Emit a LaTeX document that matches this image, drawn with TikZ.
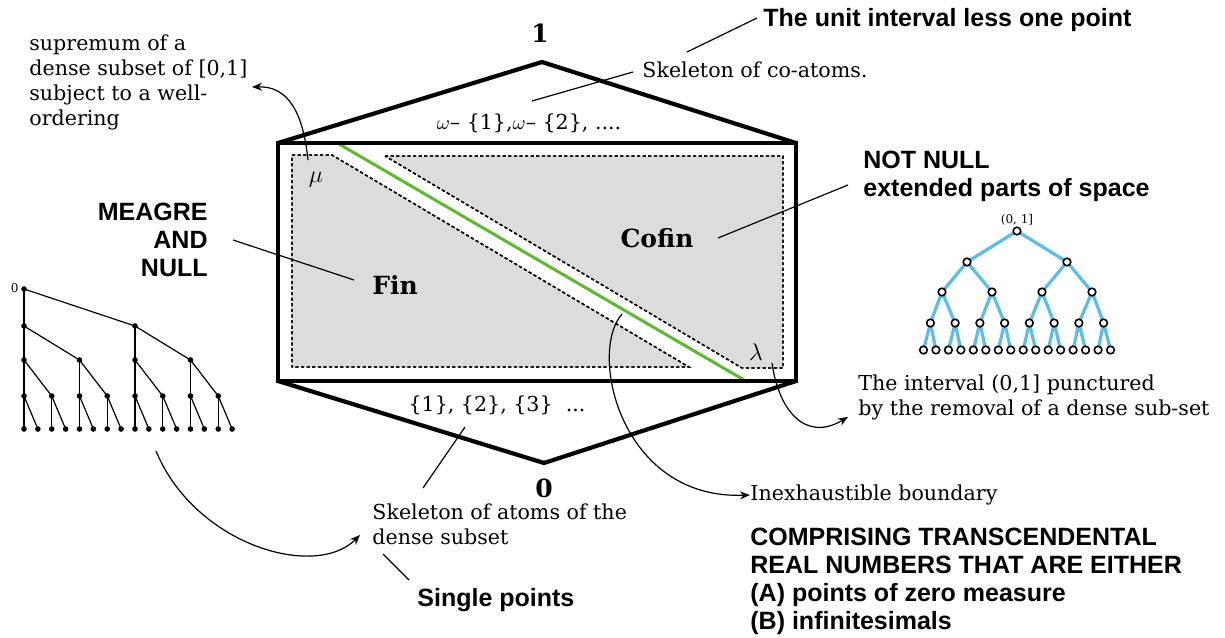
\documentclass[tikz,border=0pt]{standalone}
\usepackage{fontspec}
\setmainfont{DejaVu Serif}
\setsansfont{Liberation Sans}
\usetikzlibrary{arrows.meta}
\definecolor{fillgray}{HTML}{DCDCDC}
\definecolor{boundgreen}{HTML}{5DB92F}
\definecolor{treeblue}{HTML}{5BBDEA}
\tikzset{
 serif/.style={font=\fontsize{10.3}{12.5}\selectfont, inner sep=0pt},
 bserif/.style={font=\bfseries\fontsize{12.5}{14}\selectfont, inner sep=0pt},
 bsans/.style={font=\sffamily\bfseries\fontsize{12.5}{14}\selectfont, inner sep=0pt},
 leader/.style={line width=0.6pt},
 curvearrow/.style={line width=0.6pt, -{Stealth[length=5pt,width=4pt]}},
 region/.style={fill=fillgray, draw=black, line width=0.7pt, dash pattern=on 1.6pt off 1.2pt},
 frame/.style={line width=2.1pt, line join=miter},
 ldot/.style={circle, fill=black, inner sep=0pt, minimum size=2.8pt},
 rdot/.style={circle, draw=black, fill=white, line width=0.8pt, inner sep=0pt, minimum size=3.8pt},
 tinylbl/.style={font=\fontsize{6}{7}\selectfont, inner sep=0pt},
}
\begin{document}
\begin{tikzpicture}[x=0.5pt,y=-0.5pt]
\useasboundingbox (0,0) rectangle (1225,637);
% ---------- main figure ----------
\coordinate (TL) at (278,143);
\coordinate (TR) at (796,143);
\coordinate (BL) at (278,381);
\coordinate (BR) at (796,381);
\coordinate (Top) at (542,62);
\coordinate (Bot) at (544,463);
\fill[region] (292,155) -- (332,155) -- (689,367) -- (292,367) -- cycle;
\fill[region] (385,156) -- (783,156) -- (783,368) -- (742,368) -- cycle;
\draw[region, fill=none] (292,155) -- (332,155) -- (689,367) -- (292,367) -- cycle;
\draw[region, fill=none] (385,156) -- (783,156) -- (783,368) -- (742,368) -- cycle;
\draw[boundgreen, line width=1.5pt] (339,144) -- (744,380);
\draw[frame] (TL) rectangle (BR);
\draw[frame] (TL) -- (Top) -- (TR);
\draw[frame] (BL) -- (Bot) -- (BR);

\node[bserif] (one) at (540,33) {1};
\node[bserif] (zero) at (544,488) {0};
\node[bserif] (fin) at (395,285) {Fin};
\node[bserif] (cofin) at (657,238) {Cofin};
\node[inner sep=0pt, font=\fontsize{12}{14}\selectfont] (mu) at (316,180) {$\mu$};
\node[inner sep=0pt, font=\fontsize{12}{14}\selectfont] (lambda) at (756,352) {$\lambda$};
\node[serif] (coatomset) at (529,123) {$\omega$– \{1\},$\omega$– \{2\}, ....};
\node[serif] (atomset) at (497,405) {\{1\}, \{2\}, \{3\}\ \ ...};

% ---------- labels ----------
\node[bsans, anchor=west] (unitint) at (763,20) {The unit interval less one point};
\coordinate (unitintA) at (687,52);
\draw[leader] (unitintA) -- (757,18);
\node[serif, anchor=west] (coatoms) at (642,70) {Skeleton of co-atoms.};
\coordinate (coatomsA) at (532,101);
\draw[leader] (coatomsA) -- (633,72);

\node[serif, anchor=north west, align=left] (suprem) at (29,34)
  {supremum of a\\dense subset of [0,1]\\subject to a well-\\ordering};
\coordinate (muA) at (308,160);
\coordinate (supremA) at (252,87);
\draw[curvearrow] (muA) .. controls (303,112) and (288,86) .. (supremA);

\node[bsans, anchor=north east, align=right] (meagre) at (208,203) {MEAGRE\\AND\\NULL};
\draw[leader] (233,240) -- (354,280);

\node[bsans, anchor=north west, align=left] (notnull) at (863,151) {NOT NULL\\extended parts of space};
\draw[leader] (718,238) -- (848,185);

\node[serif, anchor=north west, align=left] (punct) at (858,374)
  {The interval (0,1] punctured\\by the removal of a dense sub-set};
\coordinate (lamA) at (772,363);
\coordinate (punctA) at (848,417);
\draw[curvearrow] (lamA) .. controls (779,412) and (806,442) .. (punctA);

\node[serif, anchor=north west, align=left] (atoms) at (372,503)
  {Skeleton of atoms of the\\dense subset};
\draw[leader] (465,427) -- (423,488);
\node[bsans, anchor=west] (single) at (417,600) {Single points};
\draw[leader] (383,554) -- (409,580);

\node[serif, anchor=west] (inexh) at (750,495) {Inexhaustible boundary};
\coordinate (greenA) at (622,314);
\draw[curvearrow] (greenA) .. controls (588,352) and (620,500) .. (inexh.west);

\node[bsans, anchor=north west, align=left] (compr) at (750,528)
  {COMPRISING TRANSCENDENTAL\\REAL NUMBERS THAT ARE EITHER\\(A) points of zero measure\\(B) infinitesimals};

% ---------- left tree ----------
\foreach \k/\yy/\py in {1/326/289, 2/360/326, 3/396/360, 4/429/396} {
  \pgfmathtruncatemacro{\n}{2^\k-1}
  \foreach \i in {0,...,\n} {
    \pgfmathsetmacro{\xx}{24+\i*222/(2^\k)}
    \pgfmathtruncatemacro{\p}{floor(\i/2)}
    \pgfmathsetmacro{\px}{24+\p*222/(2^(\k-1))}
    \draw[line width=0.6pt] (\px,\py) -- (\xx,\yy);
  }
}
\foreach \k/\yy in {0/289, 1/326, 2/360, 3/396, 4/429} {
  \pgfmathtruncatemacro{\n}{2^\k-1}
  \foreach \i in {0,...,\n} {
    \pgfmathsetmacro{\xx}{24+\i*222/(2^\k)}
    \node[ldot] (L-\k-\i) at (\xx,\yy) {};
  }
}
\node[tinylbl, anchor=east] (lroot) at (19,288) {0};
\coordinate (ltreeA) at (156,451);
\draw[curvearrow] (ltreeA) .. controls (195,545) and (315,580) .. (360,535);

% ---------- right tree ----------
\foreach \k/\yy/\py/\s/\ps in {1/262/231/100/200, 2/292/262/50/100, 3/323/292/24.75/50, 4/350/323/12.47/24.75} {
  \pgfmathtruncatemacro{\n}{2^\k-1}
  \foreach \i in {0,...,\n} {
    \pgfmathsetmacro{\xx}{1017+(\i-\n/2)*\s}
    \pgfmathtruncatemacro{\p}{floor(\i/2)}
    \pgfmathsetmacro{\pn}{2^(\k-1)-1}
    \pgfmathsetmacro{\px}{1017+(\p-\pn/2)*\ps}
    \draw[treeblue, line width=1.6pt] (\px,\py) -- (\xx,\yy);
  }
}
\foreach \k/\yy/\s in {0/231/0, 1/262/100, 2/292/50, 3/323/24.75, 4/350/12.47} {
  \pgfmathtruncatemacro{\n}{2^\k-1}
  \foreach \i in {0,...,\n} {
    \pgfmathsetmacro{\xx}{1017+(\i-\n/2)*\s}
    \node[rdot] (R-\k-\i) at (\xx,\yy) {};
  }
}
\node[tinylbl] (rroot) at (1017,220) {(0, 1]};
\end{tikzpicture}
\end{document}
